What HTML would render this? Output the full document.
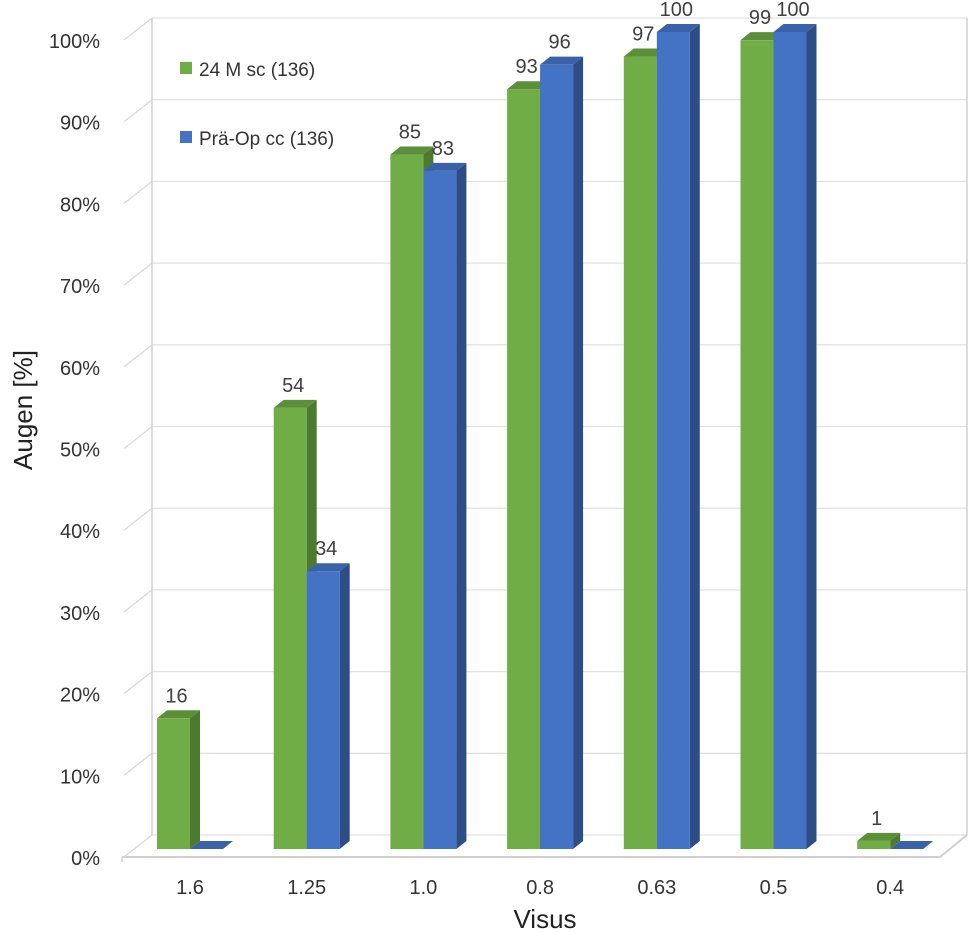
<!DOCTYPE html>
<html><head><meta charset="utf-8"><style>body{margin:0;background:#fff}svg{display:block;font-family:"Liberation Sans",sans-serif}</style></head>
<body>
<svg id="chart" width="969" height="933" xmlns="http://www.w3.org/2000/svg">
<g id="walls"></g>
<g id="bars"></g>
<g id="labels"></g>
<text transform="translate(32,410) rotate(-90)" text-anchor="middle" font-size="26" fill="#222">Augen [%]</text>
<text x="545" y="928" text-anchor="middle" font-size="26" fill="#222">Visus</text>
<g>
<rect x="180" y="62" width="12" height="12" fill="#70ad47"/>
<text x="199" y="76" font-size="19" fill="#333">24 M sc (136)</text>
<rect x="180" y="131" width="12" height="12" fill="#4472c4"/>
<text x="199" y="145" font-size="19" fill="#333">Prä-Op cc (136)</text>
</g>
</svg>
<script>
const categories=["1.6","1.25","1.0","0.8","0.63","0.5","0.4"];
const seriesGreen=[16,54,85,93,97,99,1];
const seriesBlue=[0,34,83,96,100,100,0];
const yTicks=[0,10,20,30,40,50,60,70,80,90,100];
const NS="http://www.w3.org/2000/svg";
const frontY0=849,backY0=835,scale=8.17,x0=157,groupStep=116.7,bw=33,dx=10,dy=8;
function yF(v){return frontY0-v*scale;}
function yB(v){return backY0-v*scale;}
function xG(i){return x0+i*groupStep;}
function mk(t,a,p){const e=document.createElementNS(NS,t);for(const k in a)e.setAttribute(k,a[k]);p.appendChild(e);return e;}
const walls=document.getElementById('walls'),bars=document.getElementById('bars'),labels=document.getElementById('labels');
yTicks.forEach(v=>{
  const g=mk('line',{x1:152,y1:yB(v),x2:967,y2:yB(v),stroke:'#e2e2e2','stroke-width':1.3},walls);
  
  
  const d=mk('line',{x1:124,y1:yB(v)+22,x2:152,y2:yB(v),stroke:'#d9d9d9','stroke-width':1.3},walls);
  
  
  const t=mk('text',{x:100,y:yB(v)+30,'text-anchor':'end','font-size':20,fill:'#333'},labels);
  t.textContent=v+'%';
  
  
});
mk('line',{x1:152,y1:yB(100),x2:152,y2:backY0,stroke:'#d0d0d0','stroke-width':1.5},walls);
mk('line',{x1:967,y1:yB(100),x2:967,y2:backY0,stroke:'#d0d0d0','stroke-width':1.5},walls);
mk('polyline',{points:'122,857 940,857 967,835',fill:'none',stroke:'#cfcfcf','stroke-width':2},walls);
mk('line',{x1:122,y1:857,x2:122,y2:862,stroke:'#cfcfcf','stroke-width':1.5},walls);
function bar(x,v,c,cs,ct,name){
  const g=mk('g',{},bars);
  
  
  const top=yF(v);
  mk('polygon',{points:`${x+bw},${frontY0} ${x+bw+dx},${frontY0-dy} ${x+bw+dx},${top-dy} ${x+bw},${top}`,fill:cs},g);
  mk('polygon',{points:`${x},${top} ${x+dx},${top-dy} ${x+bw+dx},${top-dy} ${x+bw},${top}`,fill:ct},g);
  mk('rect',{x:x,y:top,width:bw,height:frontY0-top,fill:c},g);
}
function lab(x,v){
  const t=mk('text',{x:x+bw/2+3,y:yF(v)-dy-8,'text-anchor':'middle','font-size':20,fill:'#404040'},labels);
  t.textContent=v;
  
  
}
categories.forEach((c,i)=>{
  const x=xG(i);
  bar(x,seriesGreen[i],'#70ad47','#4c7a30','#5b8f3a','bar-green-'+c);
  bar(x+bw,seriesBlue[i],'#4472c4','#2e4d87','#3a62a8','bar-blue-'+c);
  if(seriesGreen[i]>0)lab(x,seriesGreen[i]);
  if(seriesBlue[i]>0)lab(x+bw,seriesBlue[i]);
  const t=mk('text',{x:x+bw,y:894,'text-anchor':'middle','font-size':20,fill:'#333'},labels);
  t.textContent=c;
  
  
});
</script>
</body></html>
